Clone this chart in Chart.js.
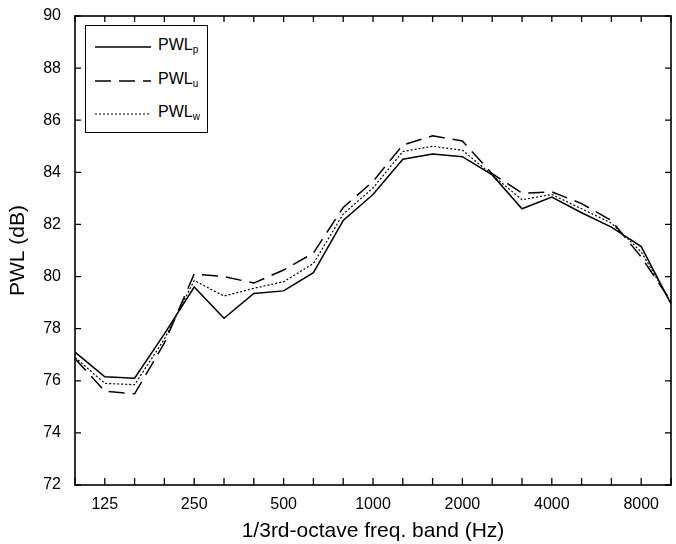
<!DOCTYPE html>
<html>
<head>
<meta charset="utf-8">
<script src="https://cdn.jsdelivr.net/npm/chart.js@4.4.1/dist/chart.umd.min.js"></script>
<style>
  body { margin: 0; background: #fff; }
  #wrap { position: relative; width: 676px; height: 544px; }
  #legend {
    position: absolute; left: 85px; top: 25px; width: 121px; height: 106px;
    border: 1.5px solid #000; background: #fff;
    font-family: "Liberation Sans", Arial, sans-serif; font-size: 16px; color: #000;
  }
  #legend .row { position: absolute; left: 0; height: 20px; }
  #legend svg { position: absolute; left: 9px; top: 5px; }
  #legend span { position: absolute; left: 72px; top: 0; white-space: nowrap; }
  #legend sub { font-size: 10px; vertical-align: -3px; }
</style>
</head>
<body>
<div id="wrap">
  <canvas id="pwlChart" width="676" height="544"></canvas>
  <div id="legend"></div>
</div>
<script>
// 1/3 octave bands (Hz)
const bands = ['100', '125', '160', '200', '250', '315', '400', '500', '630', '800', '1000',
               '1250', '1600', '2000', '2500', '3150', '4000', '5000', '6300', '8000', '10000'];
const shownLabels = ['125', '250', '500', '1000', '2000', '4000', '8000'];

const pwlP = [77.1, 76.15, 76.1, 77.8, 79.6, 78.4, 79.35, 79.45, 80.15, 82.15, 83.15,
              84.5, 84.7, 84.6, 83.9, 82.6, 83.05, 82.45, 81.9, 81.15, 78.95];
const pwlU = [76.85, 75.6, 75.5, 77.45, 80.1, 80.0, 79.75, 80.25, 80.9, 82.65, 83.65,
              85.05, 85.4, 85.2, 83.95, 83.2, 83.25, 82.8, 82.15, 80.75, 79.05];
const pwlW = [76.9, 75.9, 75.85, 77.6, 79.85, 79.25, 79.55, 79.8, 80.5, 82.4, 83.4,
              84.8, 85.0, 84.85, 83.9, 82.95, 83.15, 82.6, 82.05, 80.95, 79.0];

const yTicks = [72, 74, 76, 78, 80, 82, 84, 86, 88, 90];

const series = [
    { name: 'PWL', sub: 'p', data: pwlP, dash: [], width: 1.5 },
    { name: 'PWL', sub: 'u', data: pwlU, dash: [16, 8], width: 1.5 },
    { name: 'PWL', sub: 'w', data: pwlW, dash: [2, 2], width: 1.2 }
];

// 外框和向内的刻度线
const framePlugin = {
    id: 'frame',
    afterDraw(chart) {
        const ctx = chart.ctx;
        const a = chart.chartArea;
        const xs = chart.scales.x, ys = chart.scales.y;
        ctx.save();
        ctx.strokeStyle = '#000';
        ctx.lineWidth = 1.6;
        ctx.setLineDash([]);
        ctx.strokeRect(a.left, a.top, a.right - a.left, a.bottom - a.top);
        ctx.lineWidth = 1.3;
        ctx.beginPath();
        bands.forEach((b, i) => {
            const x = xs.getPixelForValue(i);
            ctx.moveTo(x, a.bottom); ctx.lineTo(x, a.bottom - 7);
            ctx.moveTo(x, a.top); ctx.lineTo(x, a.top + 6);
        });
        yTicks.forEach(v => {
            const y = ys.getPixelForValue(v);
            ctx.moveTo(a.left, y); ctx.lineTo(a.left + 6, y);
            ctx.moveTo(a.right, y); ctx.lineTo(a.right - 6, y);
        });
        ctx.stroke();
        ctx.restore();
    }
};

const ctx = document.getElementById('pwlChart').getContext('2d');
const pwlChart = new Chart(ctx, {
    type: 'line',
    data: {
        labels: bands,
        datasets: series.map(s => ({
            label: s.name + s.sub,
            data: s.data,
            borderColor: '#000',
            borderWidth: s.width,
            borderDash: s.dash,
            pointRadius: 0,
            tension: 0,
            fill: false
        }))
    },
    options: {
        responsive: false,
        animation: false,
        layout: { padding: { top: 16, right: 5, left: 0, bottom: 0 } },
        plugins: { legend: { display: false }, tooltip: { enabled: false } },
        scales: {
            x: {
                type: 'category',
                offset: false,
                grid: { display: false },
                border: { display: false },
                ticks: {
                    autoSkip: false,
                    maxRotation: 0,
                    padding: 2,
                    color: '#000',
                    font: { family: 'Liberation Sans', size: 16 },
                    callback: function(value) {
                        const lab = bands[value];
                        return shownLabels.includes(lab) ? lab : '';
                    }
                },
                title: {
                    display: true,
                    text: '1/3rd-octave freq. band (Hz)',
                    color: '#000',
                    font: { family: 'Liberation Sans', size: 21 },
                    padding: { top: 2, bottom: 0 }
                },
                afterFit: scale => { scale.height = 59; }
            },
            y: {
                min: 72,
                max: 90,
                grid: { display: false },
                border: { display: false },
                ticks: {
                    stepSize: 2,
                    padding: 6,
                    color: '#000',
                    font: { family: 'Liberation Sans', size: 16 }
                },
                title: {
                    display: true,
                    text: 'PWL (dB)',
                    color: '#000',
                    font: { family: 'Liberation Sans', size: 21 },
                    padding: { top: 6, bottom: 0 }
                },
                afterFit: scale => { scale.width = 75; }
            }
        }
    },
    plugins: [framePlugin]
});

// 图例 (带下标)
const legend = document.getElementById('legend');
series.forEach((s, i) => {
    const row = document.createElement('div');
    row.className = 'row';
    row.style.top = (10 + i * 33.5) + 'px';
    row.style.width = '120px';
    const dash = s.dash.length ? s.dash.join(',') : 'none';
    row.innerHTML =
        '<svg width="56" height="12"><line x1="0" y1="6" x2="56" y2="6" stroke="#000" stroke-width="' +
        s.width + '" stroke-dasharray="' + dash + '"/></svg>' +
        '<span>' + s.name + '<sub>' + s.sub + '</sub></span>';
    legend.appendChild(row);
});
</script>
</body>
</html>
